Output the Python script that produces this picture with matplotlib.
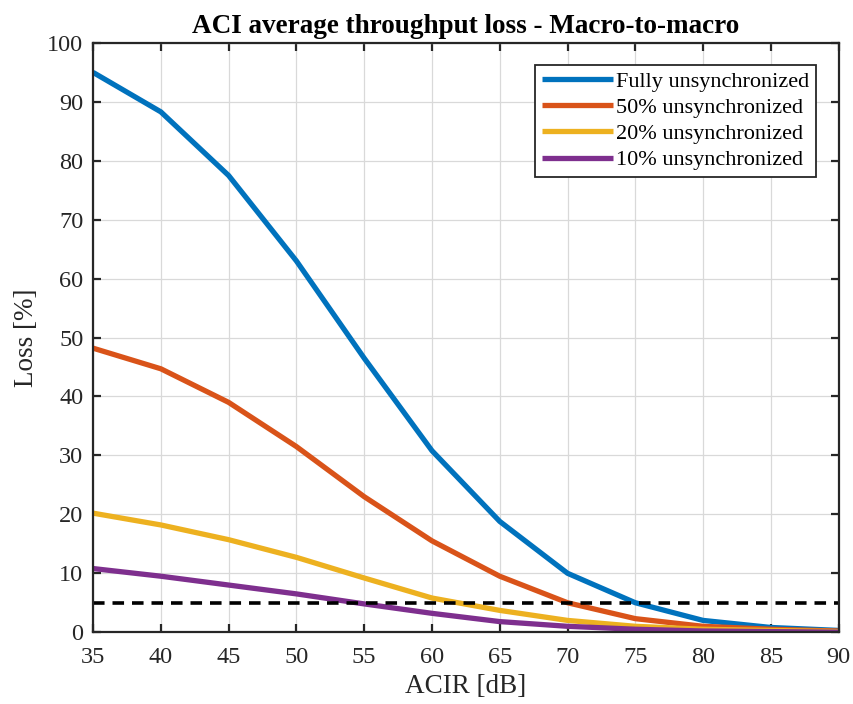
import matplotlib
matplotlib.use("Agg")
import matplotlib.pyplot as plt

acir = [35, 40, 45, 50, 55, 60, 65, 70, 75, 80, 85, 90]
fully = [95.0, 88.3, 77.5, 63.0, 46.5, 30.8, 18.8, 10.0, 5.0, 2.0, 0.8, 0.3]
half = [48.2, 44.7, 39.0, 31.5, 23.0, 15.5, 9.5, 5.0, 2.3, 1.0, 0.5, 0.2]
twenty = [20.2, 18.2, 15.7, 12.7, 9.2, 5.8, 3.7, 2.0, 1.0, 0.5, 0.3, 0.1]
ten = [10.8, 9.5, 8.0, 6.5, 4.8, 3.2, 1.8, 1.0, 0.5, 0.2, 0.1, 0.0]
labels = ["Fully unsynchronized", "50% unsynchronized", "20% unsynchronized", "10% unsynchronized"]
colors = ["#0072BD", "#D95319", "#EDB120", "#7E2F8E"]
threshold = 5

plt.rcParams['font.family'] = ['Liberation Serif', 'DejaVu Serif']
fig = plt.figure(figsize=(8.54, 7.04), dpi=100)
ax = fig.add_axes([0.109, 0.102, 0.873, 0.837])

for ys, lab, c in zip([fully, half, twenty, ten], labels, colors):
    ax.plot(acir, ys, color=c, lw=3.8, label=lab, solid_capstyle='butt')
ax.axhline(threshold, color='black', lw=2.6, ls=(0, (3.2, 2.2)))

ax.set_xlim(35, 90)
ax.set_ylim(0, 100)
ax.set_xticks(range(35, 91, 5))
ax.set_yticks(range(0, 101, 10))
ax.grid(True, color='#d9d9d9', lw=0.9)
ax.set_axisbelow(True)
ax.tick_params(direction='in', length=6, width=1.6, labelsize=17.5, top=True, right=True,
               colors='#262626', labelcolor='#262626')
ax.tick_params(axis='x', pad=11)
ax.tick_params(axis='y', pad=7)
for s in ax.spines.values():
    s.set_linewidth(1.6)
    s.set_color('#262626')
ax.set_xlabel("ACIR [dB]", fontsize=19.5, color='#262626', labelpad=4)
ax.set_ylabel("Loss [%]", fontsize=19.5, color='#262626', labelpad=6)
ax.set_title("ACI average throughput loss - Macro-to-macro", fontsize=19.5, fontweight='bold', pad=7)
leg = ax.legend(loc='upper right', bbox_to_anchor=(0.970, 0.963), fontsize=16, fancybox=False,
                edgecolor='#262626', framealpha=1, handlelength=3.2, handletextpad=0.15,
                labelspacing=0.25, borderpad=0.3, borderaxespad=0)
leg.get_frame().set_linewidth(1.3)

fig.savefig("out.png", dpi=100)
